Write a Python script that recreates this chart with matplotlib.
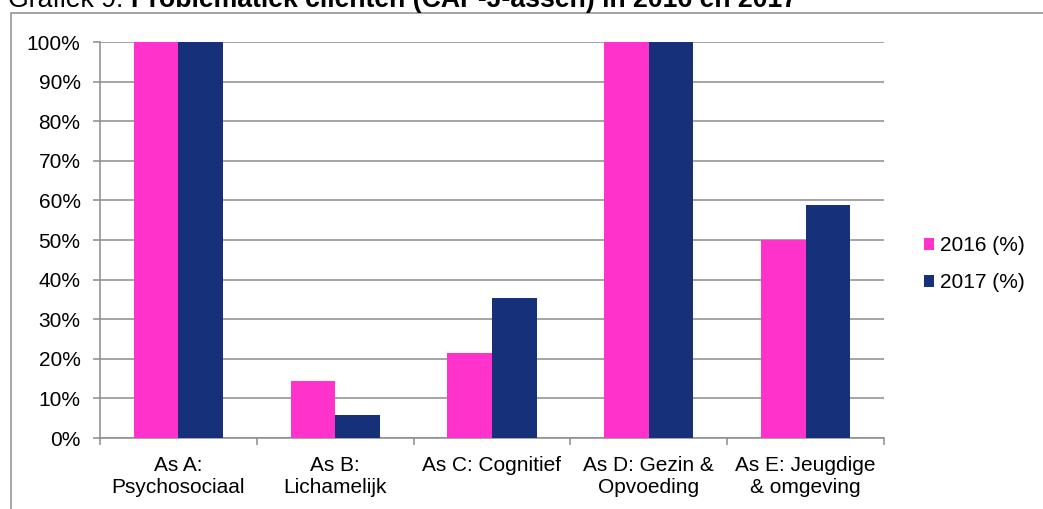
import matplotlib
matplotlib.use("Agg")
import matplotlib.pyplot as plt
from matplotlib.patches import Rectangle
import numpy as np

plt.rcParams["font.family"] = ["Liberation Sans", "DejaVu Sans"]

categories = ["As A:\nPsychosociaal", "As B:\nLichamelijk", "As C: Cognitief",
              "As D: Gezin &\nOpvoeding", "As E: Jeugdige\n& omgeving"]
pct_2016 = [100.0, 14.3, 21.4, 100.0, 50.0]
pct_2017 = [100.0, 5.9, 35.3, 100.0, 58.8]
series_names = ["2016 (%)", "2017 (%)"]
yticks = [0, 10, 20, 30, 40, 50, 60, 70, 80, 90, 100]

pink = "#FF33CC"
navy = "#17307A"
grey = "#8C8C8C"

fig = plt.figure(figsize=(10.43, 5.09), dpi=100)
ax = fig.add_axes([100 / 1043, 71 / 509, 784 / 1043, 396 / 509])

x = np.arange(len(categories))
w = 0.284
ax.bar(x - w / 2, pct_2016, w, color=pink, label=series_names[0], zorder=3)
ax.bar(x + w / 2, pct_2017, w, color=navy, label=series_names[1], zorder=3)

ax.set_xlim(-0.5, len(categories) - 0.5)
ax.set_ylim(0, 100)
ax.set_yticks(yticks)
ax.set_yticklabels([f"{t}%" for t in yticks])
ax.yaxis.grid(True, color=grey, lw=1.1, zorder=0)
ax.set_axisbelow(True)

# tick marks on category boundaries, labels in the middle
ax.set_xticks(np.arange(-0.5, len(categories), 1.0))
ax.set_xticklabels([])
ax.set_xticks(x, minor=True)
ax.set_xticklabels(categories, minor=True, fontsize=15, linespacing=1.2)
ax.tick_params(axis="x", which="major", length=5, width=1.1, color=grey)
ax.tick_params(axis="x", which="minor", length=0, pad=13)
ax.tick_params(axis="y", length=5, width=1.1, color=grey, labelsize=15, pad=9)

for s in ["top", "right"]:
    ax.spines[s].set_visible(False)
for s in ["left", "bottom"]:
    ax.spines[s].set_color(grey)
    ax.spines[s].set_linewidth(1.1)

fig.legend(loc="center left", bbox_to_anchor=(924 / 1043, 0.481), frameon=False,
           fontsize=15, handlelength=0.5, handleheight=0.5, handletextpad=0.25,
           labelspacing=0.85, borderpad=0, borderaxespad=0)

# outer chart border (cut off right and bottom)
fig.patches.append(Rectangle((11 / 1043, -0.2), 2.0, (509 - 13) / 509 + 0.2,
                             transform=fig.transFigure, fill=False,
                             edgecolor=grey, lw=1.1))

# title, partly cut off at the top as in the source
t1 = fig.text(8 / 1043, (509 - 7) / 509, "Grafiek 9: ", fontsize=19.2, va="baseline")
fig.canvas.draw()
bb = t1.get_window_extent(fig.canvas.get_renderer())
fig.text(bb.x1 / 1043, (509 - 7) / 509, "Problematiek cliënten (CAP-J-assen) in 2016 en 2017",
         fontsize=19.2, fontweight="bold", va="baseline")

fig.savefig("out.png", dpi=100)
